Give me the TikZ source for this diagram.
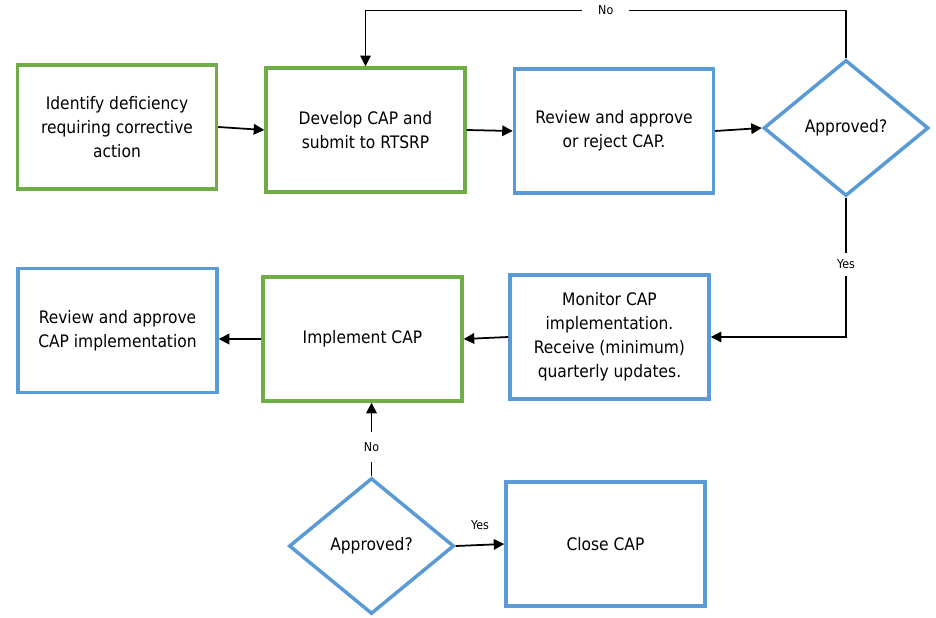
\documentclass[tikz,border=0pt]{standalone}
\usepackage{fontspec}
\setmainfont{DejaVu Sans Condensed}
\usetikzlibrary{shapes.geometric,arrows.meta}
\definecolor{boxgreen}{HTML}{70AD47}
\definecolor{boxblue}{HTML}{5B9BD5}
\begin{document}
\begin{tikzpicture}[x=0.02cm, y=-0.02cm,
    box/.style={draw, line width=2pt, minimum width=3.98cm, minimum height=2.48cm,
        align=center, font=\fontsize{9.8}{13.6}\selectfont},
    greenbox/.style={box, draw=boxgreen},
    bluebox/.style={box, draw=boxblue},
    ask/.style={diamond, draw=boxblue, line width=2pt, inner sep=0pt,
        minimum width=3.3cm, minimum height=2.72cm, font=\fontsize{9.8}{13.6}\selectfont},
    flow/.style={-{Triangle[length=6pt,width=6pt]}, line width=1pt},
    lbl/.style={fill=white, inner xsep=2pt, inner ysep=4pt, font=\fontsize{7}{8}\selectfont}]
                \useasboundingbox (0,0) rectangle (936,618);

                \node[greenbox] (ident) at (117,127) {Identify deficiency\\requiring corrective\\action};
                \node[greenbox] (dev) at (365.5,130) {Develop CAP and\\submit to RTSRP};
                \node[bluebox] (rev) at (614,131) {Review and approve\\or reject CAP.};
                \node[ask] (ok1) at (846,128) {Approved?};
                \node[bluebox] (mon) at (609.5,337) {Monitor CAP\\implementation.\\Receive (minimum)\\quarterly updates.};
                \node[greenbox] (impl) at (362.5,339) {Implement CAP};
                \node[bluebox] (revimpl) at (117.5,330.5) {Review and approve\\CAP implementation};
                \node[ask] (ok2) at (371.5,546) {Approved?};
                \node[bluebox] (close) at (605.5,544) {Close CAP};

                \draw[flow] (ident.east) -- (dev.west);
                \draw[flow] (dev.east) -- (rev.west);
                \draw[flow] (rev.east) -- (ok1.west);
                \draw[flow, line width=0.6pt] (ok1.north) -- ++(0,-48) -| node[lbl, inner xsep=9pt, pos=0.25] {No} (dev.north);
                \draw[flow, line width=0.7pt] (ok1.south) |- node[lbl, pos=0.24] {Yes} (mon.east);
                \draw[flow] (mon.west) -- (impl.east);
                \draw[flow] (impl.west) -- (revimpl.east |- impl.west);
                \draw[flow] (ok2.north) -- node[lbl, inner ysep=6pt, pos=0.4] {No} (ok2.north |- impl.south);
                \draw[flow] (ok2.east) -- node[above=5pt, font=\fontsize{7}{8}\selectfont] {Yes} (close.west);
            \end{tikzpicture}
\end{document}
